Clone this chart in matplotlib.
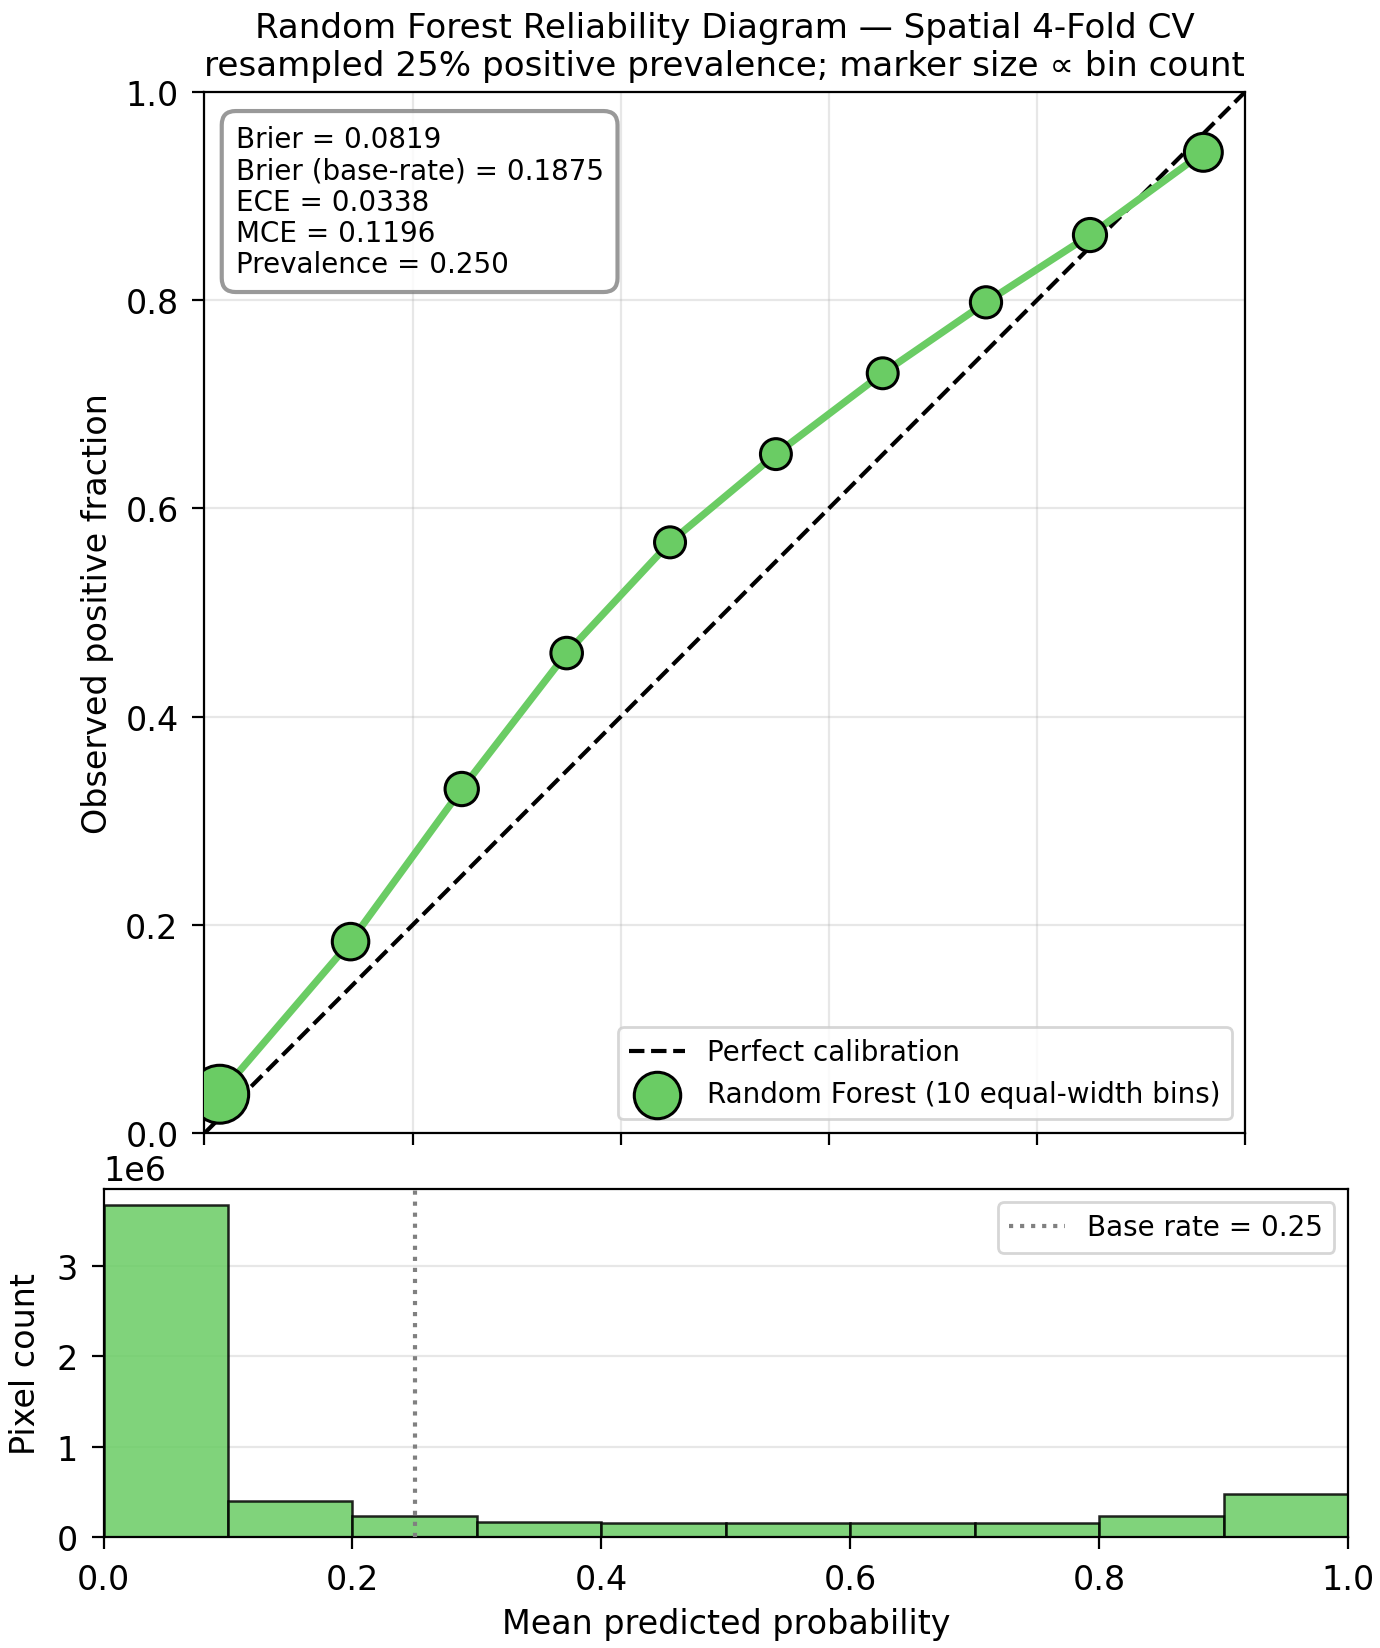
import numpy as np
import matplotlib
matplotlib.use("Agg")
import matplotlib.pyplot as plt

# ---- data ----
mean_pred = [0.0147, 0.1404, 0.2472, 0.348, 0.4473, 0.549, 0.6516, 0.7508, 0.8507, 0.9596]
obs_frac = [0.0375, 0.184, 0.3305, 0.461, 0.5673, 0.652, 0.7296, 0.7977, 0.8623, 0.9417]
bin_edges = [0.0, 0.1, 0.2, 0.3, 0.4, 0.5, 0.6, 0.7, 0.8, 0.9, 1.0]
bin_counts = [3.671e6, 0.394e6, 0.236e6, 0.170e6, 0.152e6, 0.150e6, 0.150e6, 0.160e6, 0.229e6, 0.481e6]
stats_lines = ["Brier = 0.0819", "Brier (base-rate) = 0.1875", "ECE = 0.0338",
               "MCE = 0.1196", "Prevalence = 0.250"]
base_rate = 0.25

green = "#6acc64"

plt.rcParams['font.size'] = 12
plt.rcParams['xtick.major.size'] = 4.3
plt.rcParams['ytick.major.size'] = 4.3
plt.rcParams['xtick.major.pad'] = 5
plt.rcParams['ytick.major.pad'] = 5

W, H = 1380, 1649
fig = plt.figure(figsize=(W / 200, H / 200), dpi=200)

ax2 = fig.add_axes([103.5 / W, 1 - 1538 / H, (1348 - 103.5) / W, (1538 - 1189.5) / H])
ax1 = fig.add_axes([204.4 / W, 1 - 1134.3 / H, 1041 / W, 1041.7 / H], sharex=ax2)

# --- reliability diagram ---
ax1.plot([0, 1], [0, 1], 'k--', lw=1.5, label="Perfect calibration", zorder=2)
counts = np.array(bin_counts)
sizes = 45 + 390 * np.sqrt(counts / counts.max())
ax1.plot(mean_pred, obs_frac, '-', color=green, lw=2.6, zorder=3)
ax1.scatter(mean_pred, obs_frac, s=sizes, c=green, edgecolors='black', linewidths=1.1,
            zorder=4, label="Random Forest (10 equal-width bins)")
ax1.set_xlim(0, 1)
ax1.set_ylim(0, 1)
ax1.set_ylabel("Observed positive fraction")
ax1.grid(True, alpha=0.3)
ax1.tick_params(labelbottom=False)
ax1.legend(loc="lower right", fontsize=10)
ax1.set_title("Random Forest Reliability Diagram — Spatial 4-Fold CV\n"
              "resampled 25% positive prevalence; marker size ∝ bin count", fontsize=12.3)
ax1.text(0.03, 0.968, "\n".join(stats_lines), transform=ax1.transAxes, va='top', ha='left',
         fontsize=10, linespacing=1.15,
         bbox=dict(boxstyle='round,pad=0.5', facecolor='white', edgecolor='gray', alpha=0.8, lw=1.5),
         zorder=5)

# --- histogram ---
ax2.bar(bin_edges[:-1], bin_counts, width=np.diff(bin_edges), align='edge', color=green,
        alpha=0.85, edgecolor='black', linewidth=0.9, zorder=2)
ax2.axvline(base_rate, color='gray', ls=':', lw=1.5, label=f"Base rate = {base_rate:.2f}", zorder=3)
ax2.set_xlim(0, 1)
ax2.set_xlabel("Mean predicted probability")
ax2.set_ylabel("Pixel count", labelpad=5)
ax2.grid(axis='y', alpha=0.3)
ax2.legend(loc="upper right", fontsize=10)

fig.savefig("out.png", dpi=200)
